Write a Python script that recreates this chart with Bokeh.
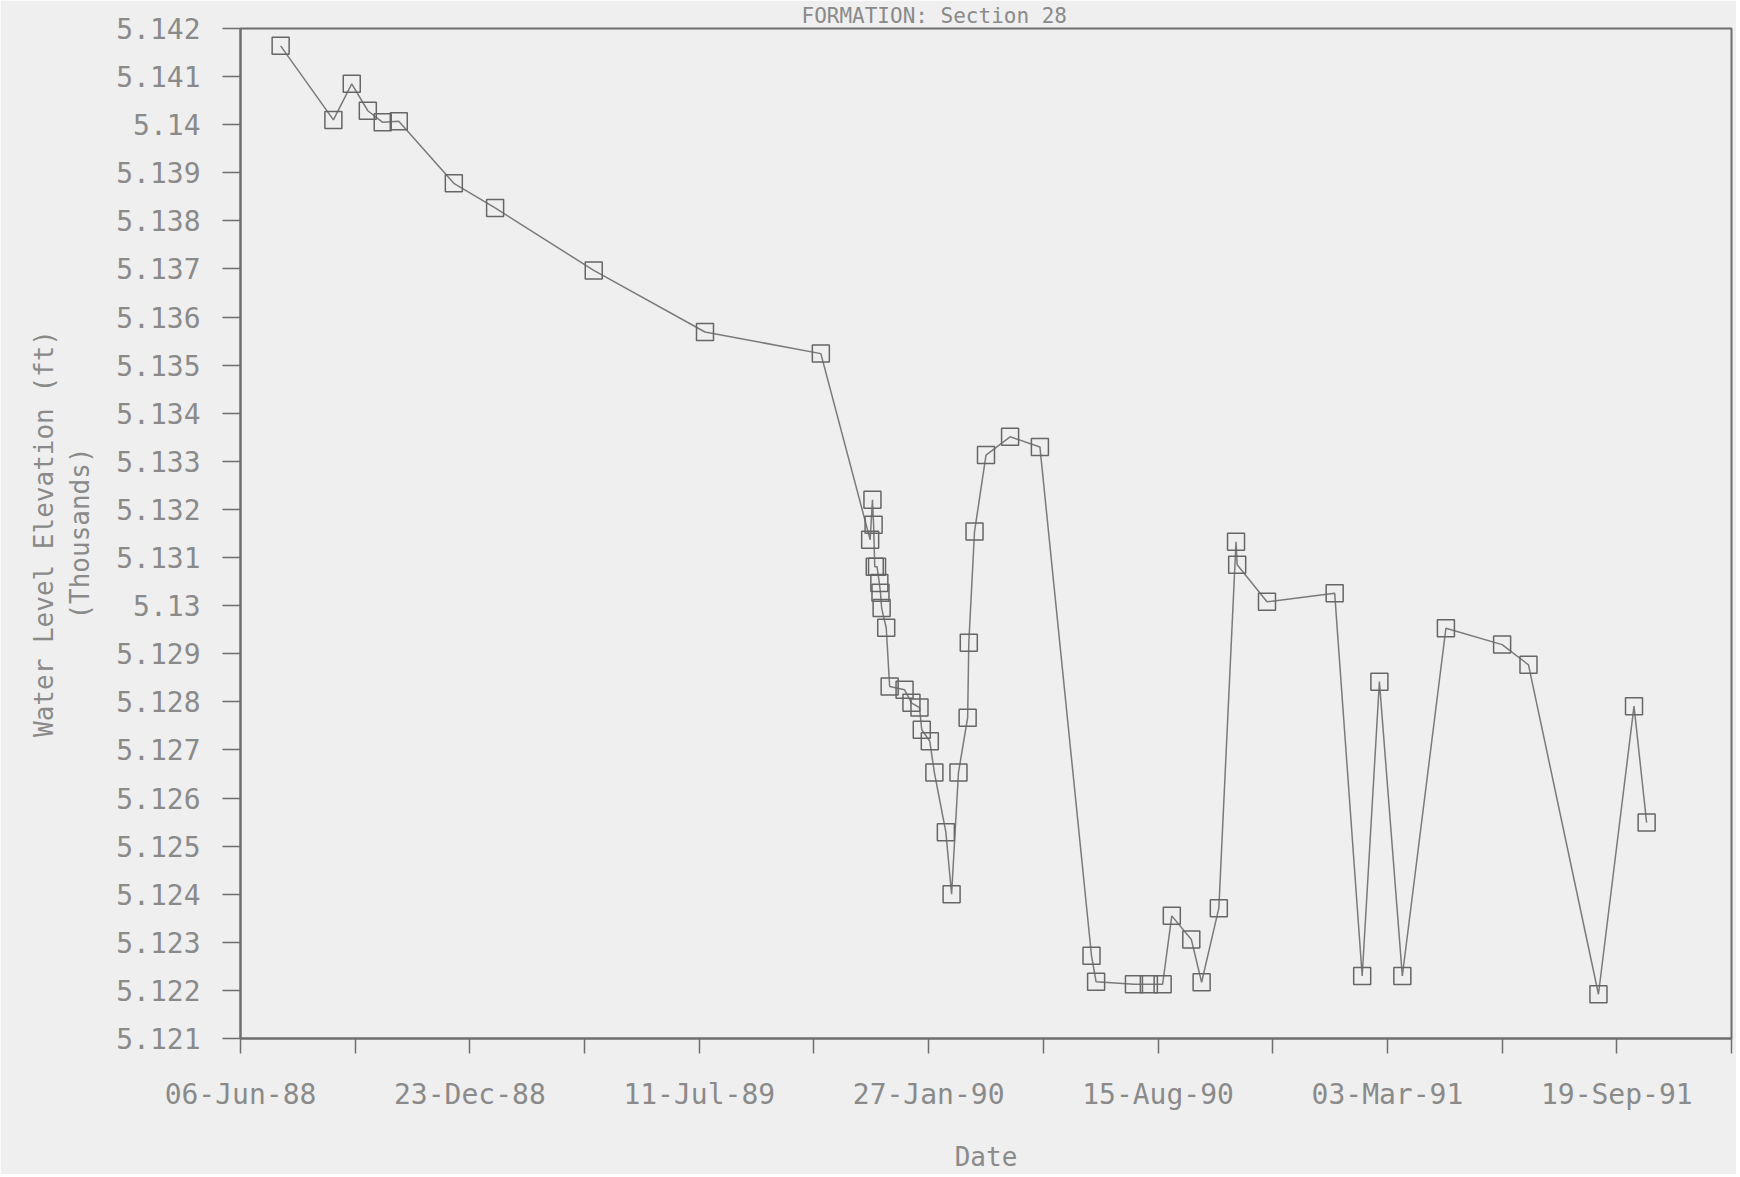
import datetime as dt
from bokeh.plotting import figure
from bokeh.models import FixedTicker, DatetimeTickFormatter, Range1d
from bokeh.embed import file_html
from bokeh.resources import INLINE

# ---- data (water level elevation, thousands of ft) ----
dates = [
    "1988-07-11", "1988-08-26", "1988-09-11", "1988-09-25", "1988-10-08", "1988-10-22",
    "1988-12-09", "1989-01-14", "1989-04-10", "1989-07-16", "1989-10-25",
    "1989-12-07", "1989-12-09", "1989-12-10", "1989-12-11", "1989-12-13", "1989-12-15",
    "1989-12-16", "1989-12-17", "1989-12-21", "1989-12-24", "1990-01-06", "1990-01-12",
    "1990-01-19", "1990-01-21", "1990-01-28", "1990-02-01", "1990-02-11", "1990-02-16",
    "1990-02-22", "1990-03-02", "1990-03-03", "1990-03-08", "1990-03-18", "1990-04-08",
    "1990-05-04", "1990-06-18", "1990-06-22", "1990-07-25", "1990-08-07", "1990-08-19",
    "1990-08-27", "1990-09-13", "1990-09-22", "1990-10-07", "1990-10-22", "1990-10-23",
    "1990-11-18", "1991-01-16", "1991-02-09", "1991-02-24", "1991-03-16", "1991-04-23",
    "1991-06-11", "1991-07-04", "1991-09-03", "1991-10-04", "1991-10-15",
]
levels = [
    5.14164, 5.14010, 5.14085, 5.14029, 5.14005, 5.14007,
    5.13878, 5.13827, 5.13697, 5.13569, 5.13524,
    5.13137, 5.13220, 5.13168, 5.13081, 5.13081, 5.13047,
    5.13027, 5.12995, 5.12954, 5.12832, 5.12825, 5.12798,
    5.12788, 5.12742, 5.12718, 5.12653, 5.12529, 5.12400,
    5.12653, 5.12767, 5.12923, 5.13154, 5.13313, 5.13351,
    5.13330, 5.12272, 5.12218, 5.12213, 5.12213, 5.12213,
    5.12355, 5.12306, 5.12217, 5.12371, 5.13133, 5.13085,
    5.13008, 5.13026, 5.12230, 5.12842, 5.12230, 5.12953,
    5.12919, 5.12877, 5.12192, 5.12791, 5.12549,
]

x_major_ticks = ["1988-06-06", "1988-12-23", "1989-07-11", "1990-01-27",
                 "1990-08-15", "1991-03-03", "1991-09-19"]
x_minor_ticks = ["1988-09-14", "1989-04-02", "1989-10-19", "1990-05-07",
                 "1990-11-23", "1991-06-11", "1991-12-28"]
x_tick_labels = ["06-Jun-88", "23-Dec-88", "11-Jul-89", "27-Jan-90",
                 "15-Aug-90", "03-Mar-91", "19-Sep-91"]
x_start, x_end = "1988-06-06", "1991-12-28"

y_ticks = [5.121, 5.122, 5.123, 5.124, 5.125, 5.126, 5.127, 5.128, 5.129, 5.13, 5.131,
           5.132, 5.133, 5.134, 5.135, 5.136, 5.137, 5.138, 5.139, 5.14, 5.141, 5.142]
y_tick_labels = ["5.121", "5.122", "5.123", "5.124", "5.125", "5.126", "5.127", "5.128",
                 "5.129", "5.13", "5.131", "5.132", "5.133", "5.134", "5.135", "5.136",
                 "5.137", "5.138", "5.139", "5.14", "5.141", "5.142"]

title_text = "FORMATION: Section 28"
x_label = "Date"
y_label = "Water Level Elevation (ft)\n(Thousands)"


def ms(s):
    d = dt.datetime.strptime(s, "%Y-%m-%d").replace(tzinfo=dt.timezone.utc)
    return int(d.timestamp() * 1000)


xs = [ms(d) for d in dates]
maj = [ms(d) for d in x_major_ticks]
mnr = [ms(d) for d in x_minor_ticks]

BG = "#efefef"
INK = "#6e6e6e"
TXT = "#8a8a8a"
FONT = "DejaVu Sans Mono"

p = figure(width=1736, height=1174, x_axis_type="datetime",
           x_range=Range1d(ms(x_start), ms(x_end)),
           y_range=Range1d(y_ticks[0], y_ticks[-1]),
           output_backend="svg", toolbar_location=None,
           min_border_left=240, min_border_right=5, min_border_top=28, min_border_bottom=10)

p.title.text = title_text
p.title.align = "left"
p.title.offset = 561
p.title.standoff = 2
p.title.text_font = FONT
p.title.text_font_size = "21px"
p.title.text_font_style = "normal"
p.title.text_color = TXT

p.background_fill_color = BG
p.border_fill_color = BG
p.outline_line_color = INK
p.outline_line_width = 2
p.xgrid.grid_line_color = None
p.ygrid.grid_line_color = None

p.line(xs, levels, line_color="#7a7a7a", line_width=1.5)
p.scatter(xs, levels, marker="square", size=17, fill_color=None,
          line_color="#666666", line_width=1.5)

# x axis
xa = p.xaxis[0]
xa.ticker = FixedTicker(ticks=maj, minor_ticks=mnr)
fmt = "%d-%b-%y"
xa.formatter = DatetimeTickFormatter(milliseconds=fmt, seconds=fmt, minsec=fmt, minutes=fmt,
                                     hourmin=fmt, hours=fmt, days=fmt, months=fmt, years=fmt)
xa.major_label_overrides = {m: l for m, l in zip(maj, x_tick_labels)}
xa.axis_label = x_label
# y axis
ya = p.yaxis[0]
ya.ticker = FixedTicker(ticks=y_ticks)
ya.major_label_overrides = {v: l for v, l in zip(y_ticks, y_tick_labels)}
ya.axis_label = y_label

for ax in (xa, ya):
    ax.axis_line_color = INK
    ax.axis_line_width = 2
    ax.major_tick_line_color = INK
    ax.major_tick_line_width = 1.5
    ax.minor_tick_line_color = INK
    ax.minor_tick_line_width = 1.5
    ax.major_tick_in = 0
    ax.minor_tick_in = 0
    ax.major_label_text_font = FONT
    ax.major_label_text_font_size = "28px"
    ax.major_label_text_color = TXT
    ax.axis_label_text_font = FONT
    ax.axis_label_text_font_size = "26px"
    ax.axis_label_text_font_style = "normal"
    ax.axis_label_text_color = TXT

xa.major_tick_out = 15
xa.minor_tick_out = 15
xa.major_label_standoff = 24
xa.axis_label_standoff = 28
ya.major_tick_out = 18
ya.minor_tick_line_color = None
ya.major_label_standoff = 22
ya.axis_label_standoff = 18

open("out.html", "w").write(file_html(p, INLINE))
